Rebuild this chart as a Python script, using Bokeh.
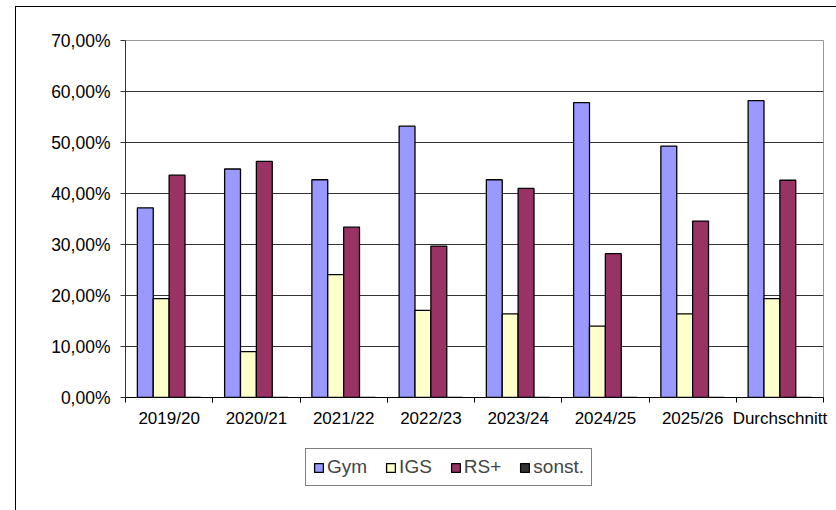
from bokeh.plotting import figure
from bokeh.layouts import column
from bokeh.models import FixedTicker, Legend, LegendItem, Range1d
from bokeh.embed import file_html
from bokeh.resources import INLINE

# data (percent)
categories = ["2019/20", "2020/21", "2021/22", "2022/23", "2023/24", "2024/25", "2025/26", "Durchschnitt"]
series = ["Gym", "IGS", "RS+", "sonst."]
gym = [37.2, 44.8, 42.7, 53.2, 42.7, 57.8, 49.3, 58.2]
igs = [19.4, 9.0, 24.1, 17.1, 16.4, 14.0, 16.4, 19.4]
rs_plus = [43.6, 46.3, 33.4, 29.7, 41.0, 28.2, 34.6, 42.6]
sonst = [0, 0, 0, 0, 0, 0, 0, 0]
y_ticks = [0, 10, 20, 30, 40, 50, 60, 70]
y_tick_labels = ["0,00%", "10,00%", "20,00%", "30,00%", "40,00%", "50,00%", "60,00%", "70,00%"]

colors = ["#9999FF", "#FFFFCC", "#993366", "#333333"]
offsets = [-0.273, -0.091, 0.091, 0.273]
bar_width = 0.182
FONT = "Liberation Sans"

n = len(categories)
p1 = figure(width=820, height=433, x_range=Range1d(-0.5, n - 0.5), y_range=Range1d(0, 70),
            output_backend="svg", toolbar_location=None, tools="",
            min_border_left=109, min_border_right=13, min_border_top=33, min_border_bottom=43)
p1.background_fill_color = "white"
p1.border_fill_color = "white"
p1.outline_line_color = "#999999"
p1.outline_line_width = 1

# bars
for vals, col, off in zip([gym, igs, rs_plus, sonst], colors, offsets):
    xs = [i + off for i in range(n)]
    p1.vbar(x=xs, top=vals, bottom=0, width=bar_width, fill_color=col,
            line_color="black", line_width=1.3)

# x axis: labels at category centres, ticks on the boundaries
p1.xaxis.ticker = FixedTicker(ticks=list(range(n)), minor_ticks=[i - 0.5 for i in range(n + 1)])
p1.xaxis.major_label_overrides = {i: c for i, c in enumerate(categories)}
p1.xaxis.major_tick_in = 0
p1.xaxis.major_tick_out = 0
p1.xaxis.minor_tick_in = 0
p1.xaxis.minor_tick_out = 5
p1.xaxis.minor_tick_line_color = "black"
p1.xaxis.axis_line_color = "black"
p1.xaxis.major_label_text_font = FONT
p1.xaxis.major_label_text_font_size = "17px"
p1.xaxis.major_label_text_color = "black"
p1.xaxis.major_label_standoff = 6

# y axis
p1.yaxis.ticker = FixedTicker(ticks=y_ticks)
p1.yaxis.major_label_overrides = dict(zip(y_ticks, y_tick_labels))
p1.yaxis.major_tick_in = 0
p1.yaxis.major_tick_out = 5
p1.yaxis.major_tick_line_color = "#333333"
p1.yaxis.minor_tick_line_color = None
p1.yaxis.axis_line_color = "#333333"
p1.yaxis.major_label_text_font = FONT
p1.yaxis.major_label_text_font_size = "17.5px"
p1.yaxis.major_label_text_color = "black"
p1.yaxis.major_label_standoff = 10

p1.xgrid.visible = False
p1.ygrid.ticker = FixedTicker(ticks=y_ticks)
p1.ygrid.grid_line_color = "#333333"
p1.ygrid.grid_line_width = 1

# legend strip under the chart (hidden copies of the bars feed the legend keys)
p2 = figure(width=820, height=70, x_range=Range1d(-0.5, n - 0.5), y_range=Range1d(0, 70),
            x_axis_type=None, y_axis_type=None, output_backend="svg",
            toolbar_location=None, tools="", min_border=0)
p2.outline_line_color = None
p2.grid.visible = False
keys = []
for vals, col, off in zip([gym, igs, rs_plus, sonst], colors, offsets):
    xs = [i + off for i in range(n)]
    r = p2.vbar(x=xs, top=vals, bottom=0, width=bar_width, fill_color=col,
                line_color="black", line_width=1.3)
    r.visible = False
    keys.append(r)

legend = Legend(items=[LegendItem(label=s, renderers=[r]) for s, r in zip(series, keys)],
                location=(180, 24), orientation="horizontal",
                glyph_width=11, glyph_height=11, label_standoff=3, spacing=18,
                padding=7, margin=0, label_height=18,
                label_text_font=FONT, label_text_font_size="19px",
                border_line_color="black", border_line_width=1,
                background_fill_color="white", background_fill_alpha=1)
p2.add_layout(legend, "center")

p = column(p1, p2, spacing=0)
# outer chart border (only left/top visible in the original crop)
p.styles = {"margin-left": "15px", "margin-top": "6px",
            "border-left": "1px solid #000000", "border-top": "1px solid #000000"}

open("out.html", "w").write(file_html(p, INLINE))
